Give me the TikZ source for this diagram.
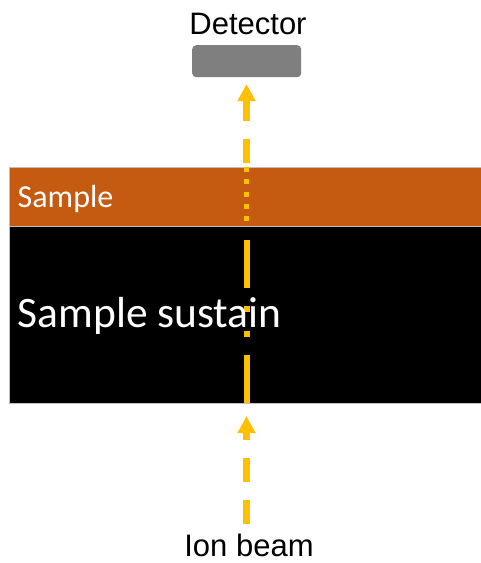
\documentclass[tikz,border=0pt]{standalone}
\usepackage{fontspec}
\setmainfont{Liberation Sans}
\newfontfamily\calfont{Carlito}
\usetikzlibrary{arrows.meta}
\definecolor{beamyellow}{HTML}{FFC000}
\definecolor{sampleorange}{HTML}{C55A11}
\definecolor{detgray}{HTML}{7F7F7F}
\tikzset{
  layer/.style={draw=black!25, line width=0.6pt, anchor=north west, inner sep=0pt},
  lbl/.style={font=\fontsize{31}{31}\selectfont, inner sep=0pt, text=black},
  layerlbl/.style={text=white, inner sep=0pt, anchor=base west},
  beamarrow/.style={draw=beamyellow, line width=6.5pt, dash pattern=on 24pt off 18pt,
    -{Triangle[width=17pt,length=17pt]}},
  beamdot/.style={draw=beamyellow, line width=5pt, dash pattern=on 5pt off 7.3pt},
  beamdashdot/.style={draw=beamyellow, line width=6pt,
    dash pattern=on 48pt off 18pt on 6pt off 19pt on 6pt off 18pt},
}
\begin{document}
\begin{tikzpicture}[x=1pt,y=-1pt]
\useasboundingbox (0,0) rectangle (480,563);
% detector
\node[lbl, anchor=base] (detlbl) at (248,34) {Detector};
\node[fill=detgray, rounded corners=4pt, minimum width=109pt, minimum height=32pt,
  inner sep=0pt, anchor=north west] (det) at (192,45) {};
% layers
\node[layer, fill=sampleorange, minimum width=474pt, minimum height=59pt] (sample) at (9,167) {};
\node[layer, fill=black, minimum width=474pt, minimum height=177pt] (sustain) at (9,226) {};
% beam coordinates
\coordinate (lowstart) at (246.5,524);
\coordinate (lowtip) at (246.5,416);
\coordinate (upstart) at (246.5,163);
\coordinate (uptip) at (246.5,84);
\coordinate (sampA) at (246.5,167);
\coordinate (sampB) at (246.5,226);
\coordinate (susA) at (246.5,240);
\coordinate (susB) at (246.5,402.5);
% beam
\draw[beamarrow] (lowstart) -- (lowtip);
\draw[beamarrow] (upstart) -- (uptip);
\draw[beamdot] (sampA) -- (sampB);
\draw[beamdashdot] (susA) -- (susB);
% labels
\node[layerlbl, font=\calfont\fontsize{32}{32}\selectfont] (samplbl) at (17.5,207.5) {Sample};
\node[layerlbl, font=\calfont\fontsize{43.5}{43.5}\selectfont] (suslbl) at (17.5,327) {Sample sustain};
\node[lbl, anchor=base] (ionlbl) at (249,556.5) {Ion beam};
\end{tikzpicture}
\end{document}
